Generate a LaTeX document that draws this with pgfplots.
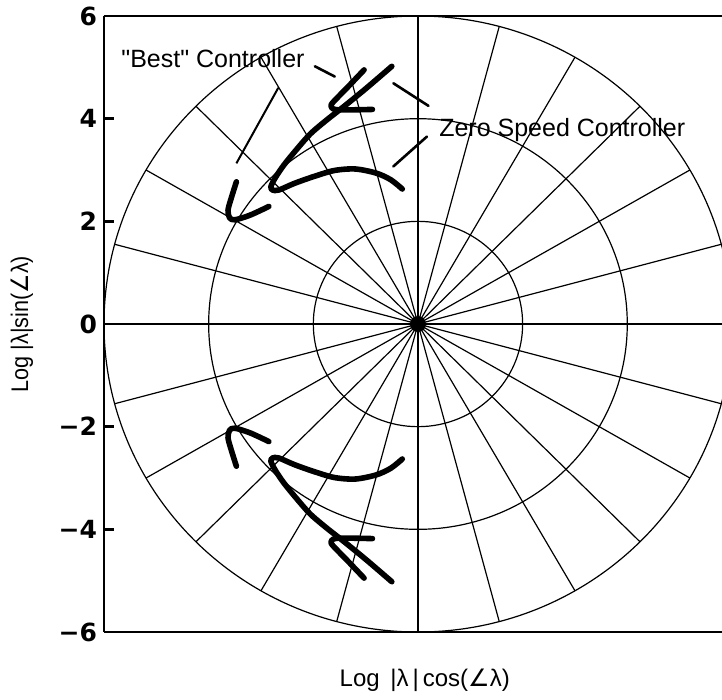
\documentclass[border=0pt]{standalone}
\usepackage{graphicx}
\usepackage{pgfplots}
\pgfplotsset{compat=1.18}
\usepackage{pgfplotstable}
\usepackage{fontspec}
\setmainfont{Liberation Sans}
\newfontfamily\dejavu{DejaVu Sans}

% upper-half branches (lower half is the mirror image)
\pgfplotstableread{
x y
-0.50 5.02
-0.98 4.60
-1.40 4.25
-1.75 3.97
-2.06 3.70
-2.32 3.40
-2.56 3.10
-2.72 2.86
-2.81 2.68
-2.78 2.61
-2.66 2.61
-2.36 2.74
-2.00 2.87
-1.60 2.99
-1.20 3.02
-0.80 2.94
-0.52 2.81
-0.30 2.63
}\curveA
\pgfplotstableread{
x y
-1.03 4.95
-1.30 4.66
-1.52 4.43
-1.66 4.27
-1.62 4.19
-1.45 4.17
-0.87 4.18
}\curveB
\pgfplotstableread{
x y
-3.47 2.77
-3.56 2.48
-3.63 2.22
-3.60 2.07
-3.50 2.03
-3.21 2.12
-2.85 2.29
}\curveC

\begin{document}
\begin{tikzpicture}
\begin{axis}[
  scale only axis, width=309pt, height=308pt,
  xmin=-6, xmax=5.81, ymin=-6, ymax=6,
  axis x line*=box, axis y line*=left,
  axis line style={line width=1.2pt, black},
  xtick=\empty,
  ytick={-6,-4,-2,0,2,4,6},
  yticklabels={−6,−4,−2,0,2,4,6},
  yticklabel style={font=\dejavu\bfseries\fontsize{12.5}{14}\selectfont},
  tick align=inside, major tick length=5pt,
  tick style={line width=1.2pt, black},
  xlabel={\fontsize{12}{14}\selectfont Log\, |λ\,|\,cos({\dejavu ∠}λ)},
  xlabel style={at={(axis description cs:0.519,-0.078)}, anchor=center},
  ylabel={\fontsize{12}{14}\selectfont\scalebox{0.9}[1]{Log |λ|sin({\dejavu ∠}λ)}},
  ylabel style={at={(axis description cs:-0.133,0.5)}, anchor=center},
]
\coordinate (SW) at (rel axis cs:0,0);
\coordinate (NE) at (rel axis cs:1,1);
% polar grid
\pgfplotsinvokeforeach{0,15,...,345}{
  \draw[line width=0.6pt] (axis cs:0,0) -- (axis cs:{6*cos(#1)},{6*sin(#1)});
}
\draw[line width=0.6pt] (axis cs:0,0) ellipse[x radius=2, y radius=2];
\draw[line width=0.6pt] (axis cs:0,0) ellipse[x radius=4, y radius=4];
\draw[line width=0.6pt] (axis cs:0,0) ellipse[x radius=6, y radius=6];
\node[circle, fill=black, inner sep=0pt, minimum size=8pt] at (axis cs:0,0) {};

% branches
\pgfplotsset{branch/.style={black, mark=none, smooth, line width=2.8pt, line cap=round, line join=round}}
\addplot[branch] table[x=x,y=y]{\curveA};
\addplot[branch] table[x=x,y expr=-\thisrow{y}]{\curveA};
\addplot[branch] table[x=x,y=y]{\curveB};
\addplot[branch] table[x=x,y expr=-\thisrow{y}]{\curveB};
\addplot[branch] table[x=x,y=y]{\curveC};
\addplot[branch] table[x=x,y expr=-\thisrow{y}]{\curveC};

% annotations
\draw[line width=1pt] (axis cs:-2.67,4.60) -- (axis cs:-3.47,3.13);
\draw[line width=1.3pt, line cap=round] (axis cs:-1.97,5.02) -- (axis cs:-1.59,4.82);
\draw[line width=1.3pt, line cap=round] (axis cs:-0.47,4.69) -- (axis cs:0.20,4.25);
\draw[line width=1.3pt, line cap=round] (axis cs:-0.47,3.07) -- (axis cs:0.17,3.65);
\node[anchor=base east, inner sep=0pt, font=\fontsize{12.5}{14}\selectfont] at (axis cs:-2.16,4.99) {\textquotedbl Best\textquotedbl{} Controller};
\node[anchor=base west, inner sep=0pt, font=\fontsize{12.5}{14}\selectfont] at (axis cs:0.40,3.65) {Zero Speed Controller};
\end{axis}
\pgfresetboundingbox
\path[use as bounding box] ([xshift=-52pt,yshift=-33.5pt]SW) rectangle ([yshift=8pt]NE);
\end{tikzpicture}
\end{document}
